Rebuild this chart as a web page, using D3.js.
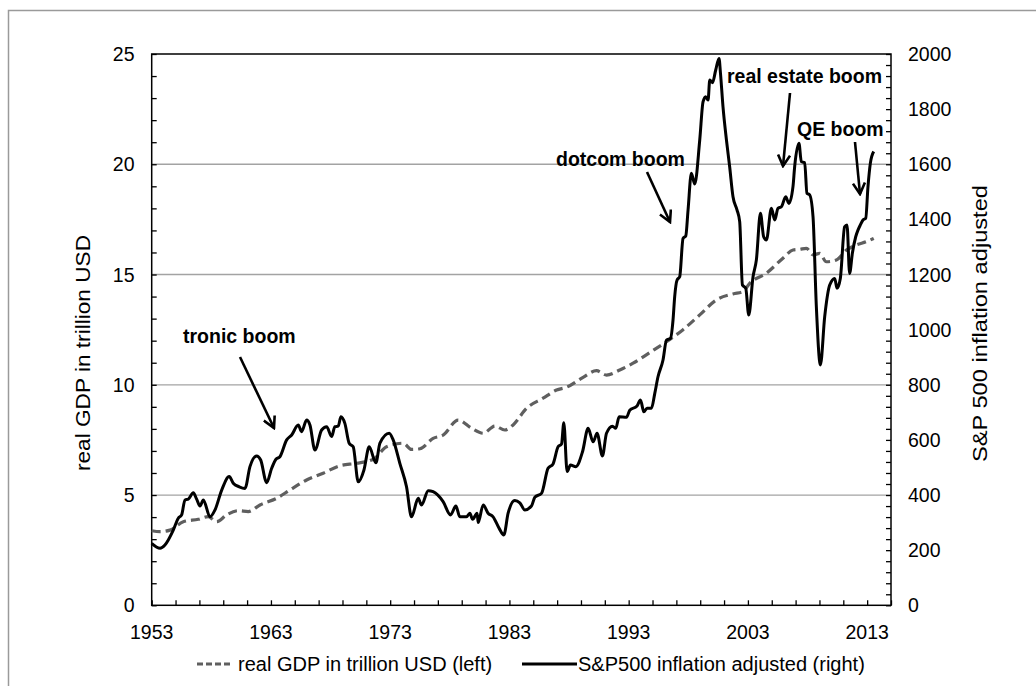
<!DOCTYPE html>
<html>
<head>
<meta charset="utf-8">
<script src="https://cdn.jsdelivr.net/npm/d3@7"></script>
<style>
  body { margin: 0; background: #fff; }
  text { font-family: "Liberation Sans", Arial, sans-serif; fill: #000; }
</style>
</head>
<body>
<div id="chart"></div>
<script>
// S&P500 (inflation adjusted) vs real GDP, two y axes

const width = 1036;
const height = 686;
const plot = {x0: 151.7, x1: 891, y0: 54, y1: 605.3};

// S&P500 inflation adjusted (right axis)
const spYears = [1953.00, 1953.70, 1954.11, 1954.81, 1955.23, 1955.51, 1955.79, 1956.07, 1956.49, 1956.77,
  1957.05, 1957.33, 1957.89, 1958.31, 1958.87, 1959.50, 1959.84, 1960.34, 1960.82, 1961.24,
  1961.80, 1962.14, 1962.64, 1963.06, 1963.42, 1963.75, 1964.32, 1964.74, 1965.29, 1965.57,
  1965.99, 1966.27, 1966.69, 1967.25, 1967.67, 1968.09, 1968.36, 1968.64, 1968.87, 1969.20,
  1969.56, 1969.90, 1970.32, 1970.80, 1971.24, 1971.80, 1972.14, 1972.92, 1973.25, 1973.81,
  1974.37, 1974.79, 1975.35, 1975.63, 1976.19, 1976.60, 1977.44, 1978.06, 1978.51, 1978.84,
  1979.40, 1979.68, 1979.91, 1980.29, 1980.38, 1980.80, 1981.21, 1981.63, 1982.14, 1982.53,
  1982.89, 1983.45, 1983.87, 1984.29, 1984.85, 1985.13, 1985.69, 1986.24, 1986.66, 1987.08,
  1987.37, 1987.56, 1987.84, 1988.12, 1988.57, 1989.13, 1989.60, 1990.02, 1990.35, 1990.80,
  1991.14, 1991.64, 1991.92, 1992.20, 1992.82, 1993.09, 1993.70, 1993.99, 1994.27, 1994.54,
  1994.91, 1995.19, 1995.46, 1995.88, 1996.17, 1996.50, 1996.72, 1996.86, 1997.06, 1997.28,
  1997.56, 1997.79, 1997.98, 1998.26, 1998.54, 1998.96, 1999.24, 1999.46, 1999.66, 1999.80,
  2000.03, 2000.30, 2000.58, 2000.70, 2000.91, 2001.20, 2001.47, 2001.75, 2002.09, 2002.31,
  2002.54, 2002.82, 2003.07, 2003.43, 2003.71, 2004.05, 2004.32, 2004.55, 2004.97, 2005.25,
  2005.52, 2005.81, 2006.17, 2006.44, 2006.78, 2006.92, 2007.28, 2007.48, 2007.76, 2007.95,
  2008.18, 2008.46, 2008.74, 2009.08, 2009.44, 2009.86, 2010.28, 2010.47, 2010.75, 2011.11,
  2011.31, 2011.53, 2011.76, 2012.04, 2012.23, 2012.43, 2012.65, 2012.88, 2013.07, 2013.27,
  2013.55];
const spValues = [225, 207, 219, 273, 316, 328, 382, 385, 408, 385,
  360, 382, 321, 346, 418, 467, 443, 430, 424, 503,
  542, 527, 445, 497, 530, 539, 600, 618, 654, 630,
  672, 654, 563, 636, 648, 612, 648, 650, 684, 660,
  588, 575, 448, 491, 575, 517, 588, 624, 600, 515,
  430, 321, 388, 364, 416, 412, 376, 328, 360, 321,
  321, 334, 312, 334, 300, 364, 334, 321, 279, 255,
  334, 380, 372, 346, 360, 392, 406, 497, 513, 575,
  585, 662, 485, 509, 503, 557, 642, 593, 624, 542,
  624, 650, 642, 684, 682, 708, 723, 745, 702, 715,
  715, 769, 829, 890, 962, 968, 1035, 1120, 1180, 1192,
  1331, 1340, 1434, 1567, 1528, 1688, 1827, 1845, 1833, 1906,
  1896, 1942, 1984, 1930, 1809, 1688, 1591, 1482, 1434, 1392,
  1162, 1150, 1053, 1192, 1253, 1422, 1337, 1325, 1440, 1398,
  1440, 1446, 1482, 1458, 1519, 1591, 1676, 1609, 1606, 1495,
  1489, 1410, 1083, 872, 1047, 1162, 1186, 1150, 1186, 1373,
  1380, 1204, 1277, 1337, 1361, 1380, 1398, 1404, 1519, 1604,
  1646];

// real GDP in trillion USD (left axis)
const gdpYears = [1953.00, 1953.70, 1954.53, 1955.65, 1956.91, 1957.74, 1958.45, 1959.29, 1960.26, 1961.10,
  1962.08, 1963.48, 1964.59, 1965.99, 1967.38, 1968.78, 1970.18, 1971.58, 1972.70, 1974.09,
  1974.79, 1975.49, 1976.60, 1977.44, 1978.70, 1979.82, 1980.80, 1981.78, 1982.61, 1983.31,
  1984.43, 1985.82, 1986.95, 1987.79, 1989.18, 1990.30, 1991.14, 1992.25, 1993.37, 1994.77,
  1996.17, 1997.56, 1998.96, 2000.36, 2001.75, 2002.59, 2003.15, 2004.55, 2005.94, 2006.78,
  2007.34, 2007.90, 2008.46, 2009.02, 2009.58, 2010.42, 2011.26, 2012.09, 2012.93, 2013.55];
const gdpValues = [3.38, 3.34, 3.41, 3.79, 3.90, 4.02, 3.79, 4.10, 4.29, 4.25,
  4.55, 4.85, 5.23, 5.68, 5.99, 6.33, 6.44, 6.62, 7.19, 7.35,
  7.07, 7.10, 7.57, 7.72, 8.40, 8.03, 7.80, 8.13, 7.95, 8.18,
  8.93, 9.39, 9.76, 9.89, 10.34, 10.64, 10.44, 10.67, 10.98, 11.46,
  11.95, 12.50, 13.17, 13.85, 14.12, 14.22, 14.60, 15.06, 15.74, 16.11,
  16.14, 16.19, 15.89, 15.96, 15.58, 15.66, 16.11, 16.34, 16.49, 16.64];

const xDomain = [1953, 2015];
const xLabelYears = [1953, 1963, 1973, 1983, 1993, 2003, 2013];
const leftTicks = [0, 5, 10, 15, 20, 25];
const rightTicks = [0, 200, 400, 600, 800, 1000, 1200, 1400, 1600, 1800, 2000];

const annotations = ["tronic boom", "dotcom boom", "real estate boom", "QE boom"];
const legendLabels = ["real GDP in trillion USD (left)", "S&P500 inflation adjusted (right)"];

const svg = d3.select("#chart").append("svg")
    .attr("width", width)
    .attr("height", height);

// outer chart border
svg.append("rect")
    .attr("x", 8.5).attr("y", 10.5)
    .attr("width", 1200).attr("height", 1000)
    .attr("fill", "none")
    .attr("stroke", "#9a9a9a")
    .attr("stroke-width", 1.5);

const x = d3.scaleLinear().domain(xDomain).range([plot.x0, plot.x1]);
const yLeft = d3.scaleLinear().domain([0, 25]).range([plot.y1, plot.y0]);
const yRight = d3.scaleLinear().domain([0, 2000]).range([plot.y1, plot.y0]);

// gridlines
svg.append("g")
    .selectAll("line")
    .data(leftTicks.filter(d => d > 0 && d < 25))
    .enter().append("line")
    .attr("x1", plot.x0).attr("x2", plot.x1)
    .attr("y1", d => yLeft(d)).attr("y2", d => yLeft(d))
    .attr("stroke", "#a3a3a3")
    .attr("stroke-width", 1.3);

// plot frame
svg.append("rect")
    .attr("x", plot.x0).attr("y", plot.y0)
    .attr("width", plot.x1 - plot.x0).attr("height", plot.y1 - plot.y0)
    .attr("fill", "none")
    .attr("stroke", "#000")
    .attr("stroke-width", 1.5);

// axes (ticks point into the plot)
const xAxis = d3.axisTop(x)
    .tickValues(d3.range(1953, 2016, 2))
    .tickSize(5)
    .tickFormat("");
svg.append("g")
    .attr("transform", `translate(0,${plot.y1})`)
    .call(xAxis)
    .call(g => g.select(".domain").remove())
    .call(g => g.selectAll("line").attr("stroke-width", 1.3));

svg.append("g")
    .selectAll("text")
    .data(xLabelYears)
    .enter().append("text")
    .attr("x", d => x(d))
    .attr("y", 638.5)
    .attr("text-anchor", "middle")
    .attr("font-size", "19.5px")
    .text(d => d);

const leftAxis = d3.axisRight(yLeft)
    .tickValues(d3.range(0, 26, 1))
    .tickSize(5)
    .tickFormat("");
svg.append("g")
    .attr("transform", `translate(${plot.x0},0)`)
    .call(leftAxis)
    .call(g => g.select(".domain").remove())
    .call(g => g.selectAll("line").attr("stroke-width", 1.3));

svg.append("g")
    .selectAll("text")
    .data(leftTicks)
    .enter().append("text")
    .attr("x", 134.5)
    .attr("y", d => yLeft(d) + 7)
    .attr("text-anchor", "end")
    .attr("font-size", "19.5px")
    .text(d => d);

const rightAxis = d3.axisLeft(yRight)
    .tickValues(d3.range(0, 2001, 40))
    .tickSize(5)
    .tickFormat("");
svg.append("g")
    .attr("transform", `translate(${plot.x1},0)`)
    .call(rightAxis)
    .call(g => g.select(".domain").remove())
    .call(g => g.selectAll("line").attr("stroke-width", 1.3));

svg.append("g")
    .selectAll("text")
    .data(rightTicks)
    .enter().append("text")
    .attr("x", 908)
    .attr("y", d => yRight(d) + 7)
    .attr("text-anchor", "start")
    .attr("font-size", "19.5px")
    .text(d => d);

// axis titles
svg.append("text")
    .attr("transform", "translate(90,353) rotate(-90)")
    .attr("text-anchor", "middle")
    .attr("font-size", "20.5px")
    .attr("textLength", 236)
    .attr("lengthAdjust", "spacingAndGlyphs")
    .text("real GDP in trillion USD");

svg.append("text")
    .attr("transform", "translate(987,323.5) rotate(-90)")
    .attr("text-anchor", "middle")
    .attr("font-size", "20.5px")
    .attr("textLength", 277)
    .attr("lengthAdjust", "spacingAndGlyphs")
    .text("S&P 500 inflation adjusted");

// series
const gdpData = gdpYears.map((yr, i) => [yr, gdpValues[i]]);
const spData = spYears.map((yr, i) => [yr, spValues[i]]);

svg.append("path")
    .datum(gdpData)
    .attr("fill", "none")
    .attr("stroke", "#5f5f5f")
    .attr("stroke-width", 3.2)
    .attr("stroke-dasharray", "9,5")
    .attr("d", d3.line().x(d => x(d[0])).y(d => yLeft(d[1])).curve(d3.curveMonotoneX));

svg.append("path")
    .datum(spData)
    .attr("fill", "none")
    .attr("stroke", "#000")
    .attr("stroke-width", 3)
    .attr("stroke-linejoin", "round")
    .attr("d", d3.line().x(d => x(d[0])).y(d => yRight(d[1])).curve(d3.curveMonotoneX));

// annotations with arrows
svg.append("defs").append("marker")
    .attr("id", "head")
    .attr("viewBox", "0 0 14 14")
    .attr("refX", 12).attr("refY", 7)
    .attr("markerWidth", 14).attr("markerHeight", 14)
    .attr("markerUnits", "userSpaceOnUse")
    .attr("orient", "auto")
    .append("path")
    .attr("d", "M1,1 L12,7 L1,13")
    .attr("fill", "none")
    .attr("stroke", "#000")
    .attr("stroke-width", 2.6);

const labelPos = [[183, 343], [556, 166], [727, 83], [797, 136]];
const arrowPos = [[240, 357, 274, 428], [647, 172, 670, 222], [790, 93, 783, 166], [855, 142, 860, 194]];

svg.append("g")
    .selectAll("text")
    .data(annotations)
    .enter().append("text")
    .attr("x", (d, i) => labelPos[i][0])
    .attr("y", (d, i) => labelPos[i][1])
    .attr("font-size", "19.5px")
    .attr("font-weight", "bold")
    .text(d => d);

svg.append("g")
    .selectAll("line")
    .data(arrowPos)
    .enter().append("line")
    .attr("x1", d => d[0]).attr("y1", d => d[1])
    .attr("x2", d => d[2]).attr("y2", d => d[3])
    .attr("stroke", "#000")
    .attr("stroke-width", 2.6)
    .attr("marker-end", "url(#head)");

// legend
const legend = svg.append("g").attr("transform", "translate(0,664)");
legend.append("line")
    .attr("x1", 197).attr("x2", 230).attr("y1", 0).attr("y2", 0)
    .attr("stroke", "#5f5f5f").attr("stroke-width", 3.2).attr("stroke-dasharray", "6,3");
legend.append("text")
    .attr("x", 238).attr("y", 7)
    .attr("font-size", "20px")
    .text(legendLabels[0]);
legend.append("line")
    .attr("x1", 522).attr("x2", 577).attr("y1", 0).attr("y2", 0)
    .attr("stroke", "#000").attr("stroke-width", 3);
legend.append("text")
    .attr("x", 578).attr("y", 7)
    .attr("font-size", "20px")
    .text(legendLabels[1]);
</script>
</body>
</html>
